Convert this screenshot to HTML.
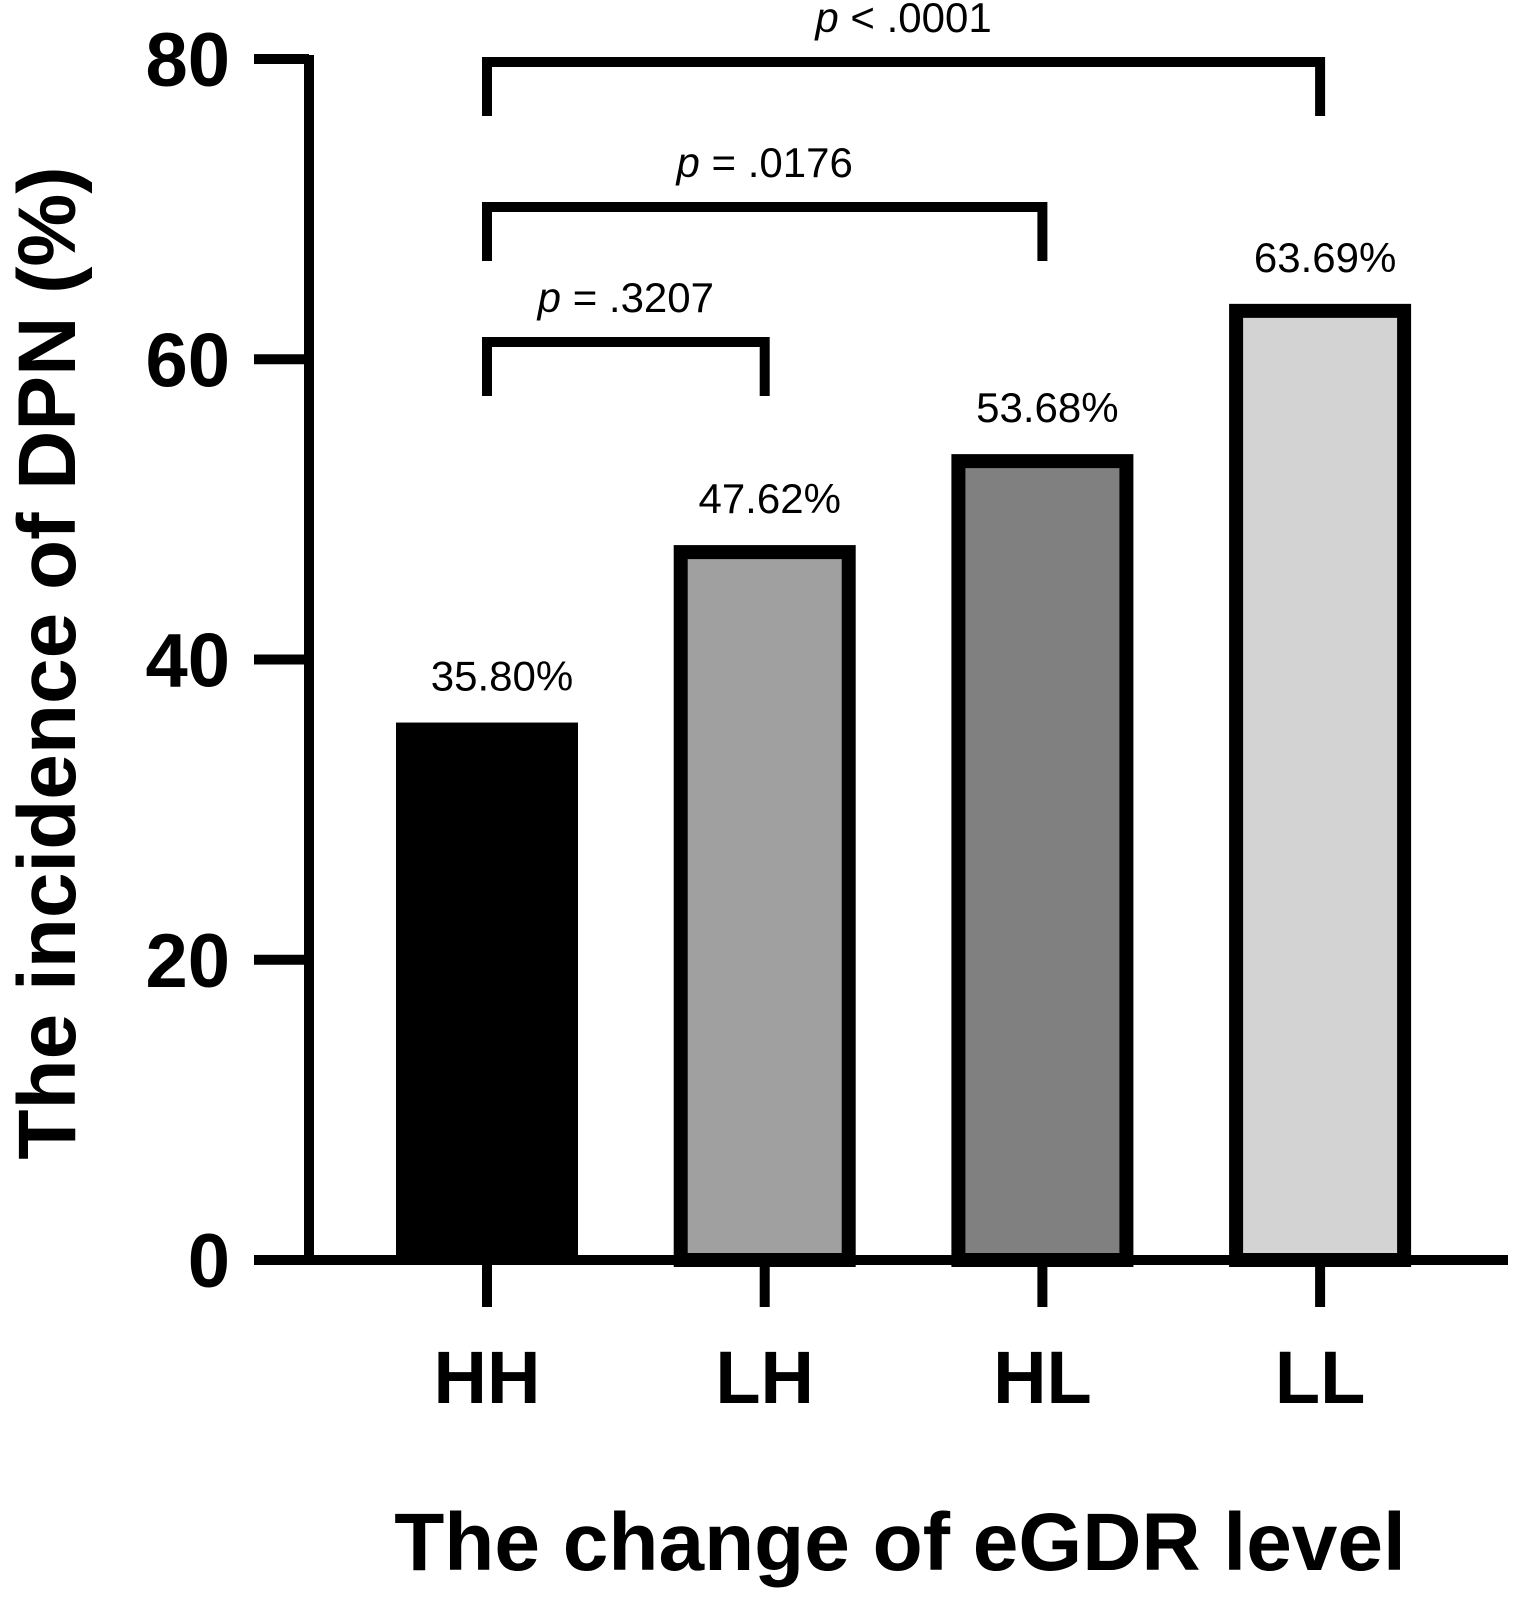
<!DOCTYPE html>
<html><head><meta charset="utf-8"><style>
html,body{margin:0;padding:0;background:#fff;}
svg{display:block;font-family:"Liberation Sans",Arial,sans-serif;}
</style></head><body>
<svg id="chart" width="1517" height="1622" viewBox="0 0 1517 1622" xmlns="http://www.w3.org/2000/svg">
<g id="axes"></g><g id="bars"></g><g id="brackets"></g>
<text x="900" y="1570" text-anchor="middle" font-size="82" font-weight="bold">The change of eGDR level</text>
<text transform="translate(75,663) rotate(-90)" text-anchor="middle" font-size="82" font-weight="bold">The incidence of DPN (%)</text>
</svg>
<script>
const categories = ["HH","LH","HL","LL"];
const values = [35.80, 47.62, 53.68, 63.69];
const valueLabels = ["35.80%","47.62%","53.68%","63.69%"];
const yTicks = [0,20,40,60,80];
const pLabels = ["= .3207","= .0176","< .0001"];
const pPairs = [[0,1],[0,2],[0,3]];
const fills = ["#000","#a0a0a0","#808080","#d3d3d3"];
const NS="http://www.w3.org/2000/svg";
const x0=309,x1=1508,yB=1260,yT=59;
const y=v=>yB-(v/80)*(yB-yT);
const xc=i=>487+i*277.7;
function mk(tag,attrs,parent,text){const e=document.createElementNS(NS,tag);for(const k in attrs)e.setAttribute(k,attrs[k]);if(text!==undefined)e.textContent=text;parent.appendChild(e);return e;}
const axes=document.getElementById('axes'),bars=document.getElementById('bars'),br=document.getElementById('brackets');
let el=mk('line',{x1:x0,y1:yT-4,x2:x0,y2:yB+5,stroke:'#000','stroke-width':10},axes);


el=mk('line',{x1:x0-5,y1:yB,x2:x1,y2:yB,stroke:'#000','stroke-width':10},axes);


yTicks.forEach(t=>{
 let l=mk('line',{x1:254,y1:y(t),x2:x0,y2:y(t),stroke:'#000','stroke-width':10},axes);
 
 
 let tx=mk('text',{x:230,y:y(t)+27,'text-anchor':'end','font-size':76,'font-weight':'bold'},axes,String(t));
 
 
});
categories.forEach((c,i)=>{
 const cx=xc(i);
 let l=mk('line',{x1:cx,y1:yB,x2:cx,y2:1307,stroke:'#000','stroke-width':10},axes);
 
 
 let tx=mk('text',{x:cx,y:1403,'text-anchor':'middle','font-size':74,'font-weight':'bold'},axes,c);
 
 
 const w=182,sw=i===0?0:14;
 let r=mk('rect',{x:cx-w/2+sw/2,y:y(values[i])+sw/2,width:w-sw,height:yB-y(values[i])-sw/2,fill:fills[i],stroke:'#000','stroke-width':sw},bars);
 
 
 let vl=mk('text',{x:cx+(i===0?15:5),y:y(values[i])-32,'text-anchor':'middle','font-size':42},bars,valueLabels[i]);
 
 
});
const bY=[342,207,62];
pPairs.forEach((p,k)=>{
 const a=xc(p[0]),b=xc(p[1]),yy=bY[k];
 let pl=mk('polyline',{points:`${a},${yy+54} ${a},${yy} ${b},${yy} ${b},${yy+54}`,fill:'none',stroke:'#000','stroke-width':10},br);
 
 
 const t=mk('text',{x:(a+b)/2,y:yy-30,'text-anchor':'middle','font-size':42},br);
 
 
 mk('tspan',{'font-style':'italic'},t,'p');
 mk('tspan',{},t,' '+pLabels[k]);
});
</script>
</body></html>
